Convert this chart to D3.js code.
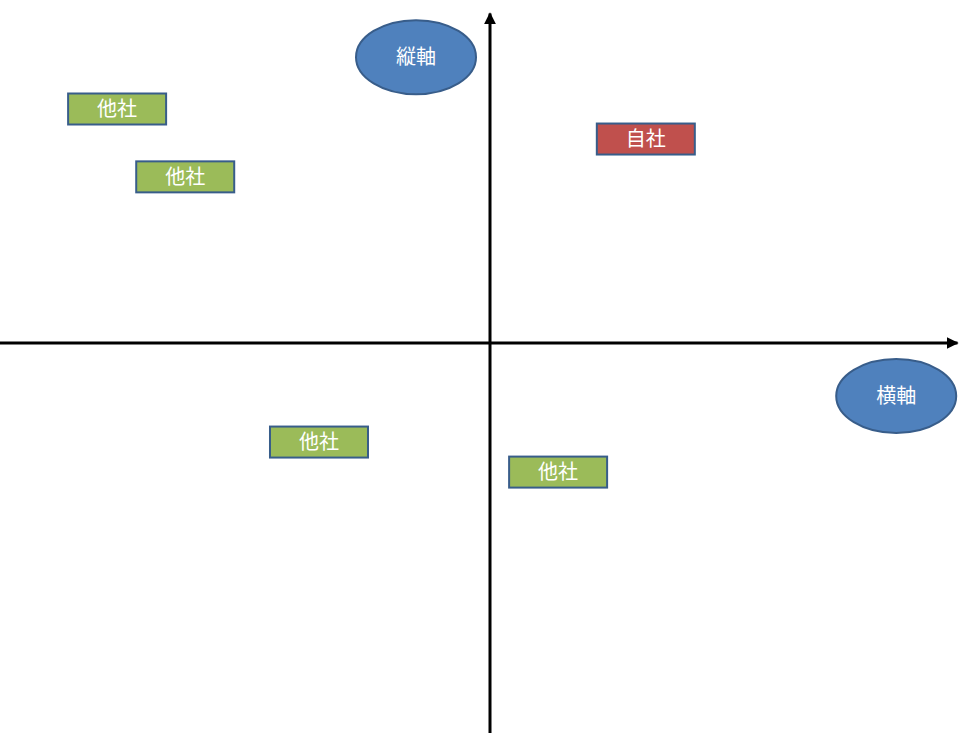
<!DOCTYPE html>
<html><head><meta charset="utf-8">
<script src="https://cdn.jsdelivr.net/npm/d3@7"></script>
<style>body{margin:0;background:#fff}svg{display:block}</style>
</head><body>
<svg id="c" width="969" height="733"></svg>
<script>
const companies = ["他社","他社","自社","他社","他社"];
const xValues = [-76.1,-62.2,31.8,-34.9,13.9];
const yValues = [60,42.6,52.3,-25.4,-33.1];
const isOwn = [false,false,true,false,false];
const axisLabels = ["縦軸","横軸"];
const axisLabelX = [-15.1,82.9];
const axisLabelY = [73.3,-13.6];

const svg = d3.select("#c");
const x = d3.scaleLinear().domain([-100,100]).range([0,980]);
const y = d3.scaleLinear().domain([-100,100]).range([733,-47]);
const font = "'Noto Sans CJK JP', sans-serif";

const defs = svg.append("defs");
defs.append("marker").attr("id","ar").attr("viewBox","0 0 10 10").attr("refX",9).attr("refY",5)
  .attr("markerWidth",4).attr("markerHeight",4).attr("orient","auto")
  .append("path").attr("d","M0,0L10,5L0,10z").attr("fill","#000");

svg.append("line").attr("x1",x(-100)).attr("x2",x(95.4)).attr("y1",y(0)).attr("y2",y(0))
  .attr("stroke","#000").attr("stroke-width",3).attr("marker-end","url(#ar)");
svg.append("line").attr("x1",x(0)).attr("x2",x(0)).attr("y1",y(-100)).attr("y2",y(84.5))
  .attr("stroke","#000").attr("stroke-width",3).attr("marker-end","url(#ar)");

companies.forEach((c,i)=>{
  const g = svg.append("g").attr("transform",`translate(${x(xValues[i])},${y(yValues[i])})`);
  g.append("rect").attr("x",-49).attr("y",-15.5).attr("width",98).attr("height",31)
    .attr("fill",isOwn[i]?"#C0504D":"#9BBB59").attr("stroke","#385D8A").attr("stroke-width",2);
  g.append("text").attr("text-anchor","middle").attr("dy","0.35em").attr("fill","#fff")
    .attr("font-family",font).attr("font-size",20).text(c);
});

axisLabels.forEach((t,i)=>{
  const g = svg.append("g").attr("transform",`translate(${x(axisLabelX[i])},${y(axisLabelY[i])})`);
  g.append("ellipse").attr("rx",60).attr("ry",37).attr("fill","#4F81BD").attr("stroke","#385D8A").attr("stroke-width",2);
  g.append("text").attr("text-anchor","middle").attr("dy","0.35em").attr("fill","#fff")
    .attr("font-family",font).attr("font-size",20).text(t);
});
</script>
</body></html>
